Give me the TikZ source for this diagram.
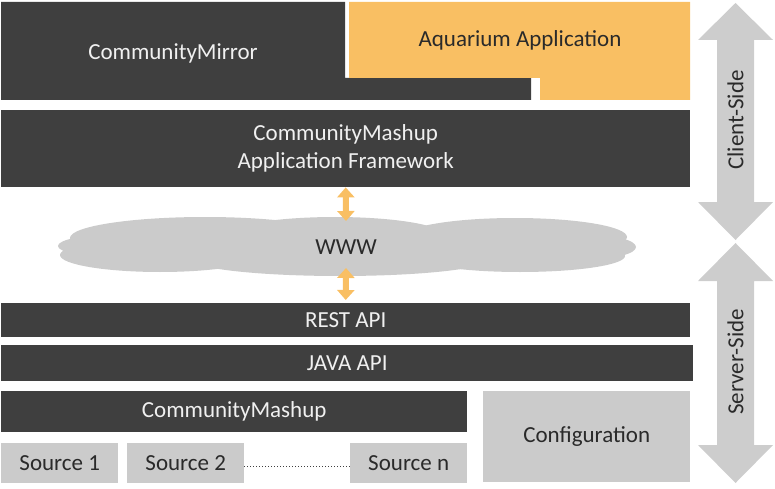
\documentclass[tikz,border=0pt]{standalone}
\usepackage{fontspec}
\setmainfont{Carlito}
\usetikzlibrary{arrows.meta}
\definecolor{dark}{HTML}{3F3F3F}
\definecolor{orng}{HTML}{F9BF63}
\definecolor{lgray}{HTML}{CBCBCB}
\definecolor{sidegray}{HTML}{CDCDCD}
\definecolor{txtlight}{HTML}{F0F0F0}
\definecolor{txtdark}{HTML}{2A2A2A}
\begin{document}
\begin{tikzpicture}[x=1pt,y=-1pt,
  lbl/.style={font=\fontsize{23}{28}\selectfont, align=center},
  darkbox/.style={lbl, fill=dark, text=txtlight, draw=none, anchor=north west, inner sep=0pt},
  lightbox/.style={lbl, fill=lgray, text=txtdark, draw=none, anchor=north west, inner sep=0pt},
  darrow/.style={draw=orng, line width=6pt, {Triangle[width=17pt,length=10pt]}-{Triangle[width=17pt,length=10pt]}},
  sidearrow/.style={fill=sidegray, draw=none}]
\useasboundingbox (0,0) rectangle (775,489);

% CommunityMirror (L-shape)
\fill[dark] (1,2) -- (345,2) -- (345,78) -- (531,78) -- (531,100) -- (1,100) -- cycle;
\node[lbl, text=txtlight] (mirror) at (173,53) {CommunityMirror};

% Aquarium Application (inverse L-shape)
\fill[orng] (349,2) -- (690,2) -- (690,100) -- (540,100) -- (540,78) -- (349,78) -- cycle;
\node[lbl, text=txtdark] (aqua) at (520,40) {Aquarium Application};

% Application framework
\node[darkbox, minimum width=689pt, minimum height=77pt] (fw) at (1,110) {CommunityMashup\\Application Framework};

% Cloud
\fill[lgray] (345,246) ellipse [x radius=285, y radius=13];
\fill[lgray] (205,238) ellipse [x radius=135, y radius=21];
\fill[lgray] (335,236) ellipse [x radius=110, y radius=19];
\fill[lgray] (515,237) ellipse [x radius=112, y radius=19];
\fill[lgray] (160,255) ellipse [x radius=100, y radius=17];
\fill[lgray] (340,259) ellipse [x radius=150, y radius=17];
\fill[lgray] (520,256) ellipse [x radius=105, y radius=16];
\fill[lgray] (110,246) ellipse [x radius=52, y radius=11];
\fill[lgray] (590,247) ellipse [x radius=46, y radius=12];
\node[lbl, text=txtdark] (www) at (346,247) {WWW};
\coordinate (cloudtop) at (346,221);
\coordinate (cloudbot) at (346,268);

% Server layers
\node[darkbox, minimum width=689pt, minimum height=34pt] (rest) at (1,303) {REST API};
\node[darkbox, minimum width=692pt, minimum height=36pt] (java) at (1,345) {JAVA API};
\node[darkbox, minimum width=466pt, minimum height=41pt] (mashup) at (1,391) {CommunityMashup};
\node[lightbox, minimum width=207pt, minimum height=91pt] (config) at (483,391) {Configuration};
\node[lightbox, minimum width=117pt, minimum height=40pt] (src1) at (1,443) {Source 1};
\node[lightbox, minimum width=117pt, minimum height=40pt] (src2) at (127,443) {Source 2};
\node[lightbox, minimum width=117pt, minimum height=40pt] (srcn) at (350,443) {Source n};
\draw[dark, line width=1pt, dotted] ([yshift=-3pt]src2.east) -- ([yshift=-3pt]srcn.west);

% Orange connectors
\draw[darrow] (fw.south) -- (cloudtop);
\draw[darrow] (cloudbot) -- ([yshift=3pt]rest.north);

% Side arrows
\fill[sidearrow] (735.5,3) -- (773,40) -- (754,40) -- (754,202) -- (773,202) -- (735.5,240) -- (698,202) -- (717,202) -- (717,40) -- (698,40) -- cycle;
\fill[sidearrow] (735.5,243) -- (773,281) -- (754,281) -- (754,445) -- (773,445) -- (735.5,483) -- (698,445) -- (717,445) -- (717,281) -- (698,281) -- cycle;
\node[lbl, text=txtdark, rotate=90] (client) at (735.5,120) {Client-Side};
\node[lbl, text=txtdark, rotate=90] (server) at (735.5,362) {Server-Side};
\end{tikzpicture}
\end{document}
